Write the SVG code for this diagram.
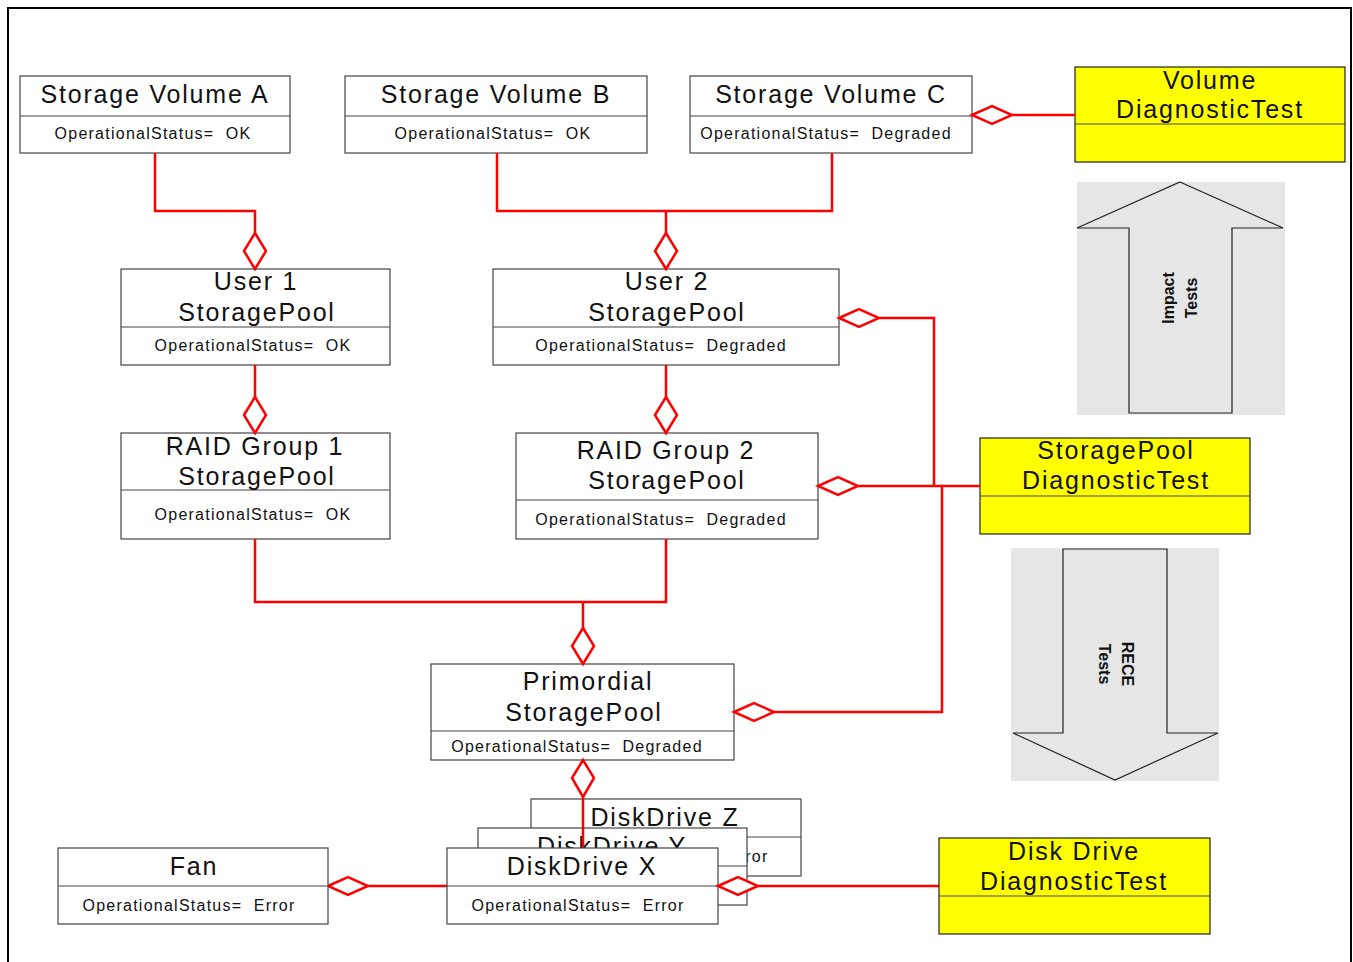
<svg xmlns="http://www.w3.org/2000/svg" width="1353" height="962" viewBox="0 0 1353 962">
<style>
  .box { fill: #ffffff; stroke: #444444; stroke-width: 1.2; }
  .ybox { fill: #ffff00; stroke: #222222; stroke-width: 1.2; }
  .div { stroke: #444444; stroke-width: 1.2; }
  .t { font-family: "Liberation Sans", Arial, sans-serif; font-size: 25px; letter-spacing: 1.8px; fill: #111111; text-anchor: middle; }
  .s { font-family: "Liberation Sans", Arial, sans-serif; font-size: 16px; letter-spacing: 1.25px; fill: #111111; text-anchor: middle; white-space: pre; }
  .b { font-family: "Liberation Sans", Arial, sans-serif; font-size: 16px; font-weight: bold; fill: #111111; text-anchor: middle; }
  .gray { fill: #e6e6e6; }
  .arrow { fill: #e6e6e6; stroke: #222222; stroke-width: 1.2; }
  .c { fill: none; stroke: #ff0000; stroke-width: 2.5; }
  .d { fill: #ffffff; stroke: #ff0000; stroke-width: 2.5; }
</style>
<rect x="0" y="0" width="1353" height="962" fill="#ffffff"/>
<rect x="8" y="8" width="1343" height="980" fill="none" stroke="#000000" stroke-width="2"/>

<g id="impact-arrow">
  <rect class="gray" x="1077" y="182" width="208" height="233"/>
  <polygon class="arrow" points="1180,182 1283,228 1232,228 1232,413 1129,413 1129,228 1077,228"/>
  <text class="b" transform="translate(1174,298) rotate(-90)">Impact</text>
  <text class="b" transform="translate(1197,298) rotate(-90)">Tests</text>
</g>
<g id="rece-arrow">
  <rect class="gray" x="1011" y="548" width="208" height="233"/>
  <polygon class="arrow" points="1063,549 1167,549 1167,733 1218,733 1115,780 1013,733 1063,733"/>
  <text class="b" transform="translate(1122,664) rotate(90)">RECE</text>
  <text class="b" transform="translate(1099,664) rotate(90)">Tests</text>
</g>

<g id="sv-a">
  <rect class="box" x="20" y="76" width="270" height="77"/>
  <line class="div" x1="20" y1="116" x2="290" y2="116"/>
  <text class="t" x="155" y="103">Storage Volume A</text>
  <text class="s" x="153" y="139">OperationalStatus=  OK</text>
</g>
<g id="sv-b">
  <rect class="box" x="345" y="76" width="302" height="77"/>
  <line class="div" x1="345" y1="116" x2="647" y2="116"/>
  <text class="t" x="496" y="103">Storage Volume B</text>
  <text class="s" x="493" y="139">OperationalStatus=  OK</text>
</g>
<g id="sv-c">
  <rect class="box" x="690" y="76" width="282" height="77"/>
  <line class="div" x1="690" y1="116" x2="972" y2="116"/>
  <text class="t" x="831" y="103">Storage Volume C</text>
  <text class="s" x="826" y="139">OperationalStatus=  Degraded</text>
</g>
<g id="volume-dt">
  <rect class="ybox" x="1075" y="67" width="270" height="95"/>
  <line class="div" x1="1075" y1="124" x2="1345" y2="124"/>
  <text class="t" x="1210" y="89">Volume</text>
  <text class="t" x="1210" y="118">DiagnosticTest</text>
</g>

<g id="user1">
  <rect class="box" x="121" y="269" width="269" height="96"/>
  <line class="div" x1="121" y1="327" x2="390" y2="327"/>
  <text class="t" x="256" y="290">User 1</text>
  <text class="t" x="257" y="321">StoragePool</text>
  <text class="s" x="253" y="351">OperationalStatus=  OK</text>
</g>
<g id="user2">
  <rect class="box" x="493" y="269" width="346" height="96"/>
  <line class="div" x1="493" y1="327" x2="839" y2="327"/>
  <text class="t" x="667" y="290">User 2</text>
  <text class="t" x="667" y="321">StoragePool</text>
  <text class="s" x="661" y="351">OperationalStatus=  Degraded</text>
</g>
<g id="raid1">
  <rect class="box" x="121" y="433" width="269" height="106"/>
  <line class="div" x1="121" y1="490" x2="390" y2="490"/>
  <text class="t" x="255" y="455">RAID Group 1</text>
  <text class="t" x="257" y="485">StoragePool</text>
  <text class="s" x="253" y="520">OperationalStatus=  OK</text>
</g>
<g id="raid2">
  <rect class="box" x="516" y="433" width="302" height="106"/>
  <line class="div" x1="516" y1="500" x2="818" y2="500"/>
  <text class="t" x="666" y="459">RAID Group 2</text>
  <text class="t" x="667" y="489">StoragePool</text>
  <text class="s" x="661" y="525">OperationalStatus=  Degraded</text>
</g>
<g id="sp-dt">
  <rect class="ybox" x="980" y="438" width="270" height="96"/>
  <line class="div" x1="980" y1="496" x2="1250" y2="496"/>
  <text class="t" x="1116" y="459">StoragePool</text>
  <text class="t" x="1116" y="489">DiagnosticTest</text>
</g>

<g id="primordial">
  <rect class="box" x="431" y="664" width="303" height="96"/>
  <line class="div" x1="431" y1="731" x2="734" y2="731"/>
  <text class="t" x="588" y="690">Primordial</text>
  <text class="t" x="584" y="721">StoragePool</text>
  <text class="s" x="577" y="752">OperationalStatus=  Degraded</text>
</g>

<g id="diskdrive-z">
  <rect class="box" x="531" y="799" width="270" height="77"/>
  <line class="div" x1="531" y1="837" x2="801" y2="837"/>
  <text class="t" x="665" y="826">DiskDrive Z</text>
  <text class="s" x="662" y="862">OperationalStatus=  Error</text>
</g>
<g id="diskdrive-y">
  <rect class="box" x="478" y="828" width="269" height="77"/>
  <line class="div" x1="478" y1="866" x2="747" y2="866"/>
  <text class="t" x="612" y="855">DiskDrive Y</text>
</g>

<g id="connectors">
  <path class="c" d="M155,153 V211 H255 V233"/>
  <path class="c" d="M497,153 V211 H832 V153 M666,211 V233"/>
  <path class="c" d="M1012,115 H1075"/>
  <path class="c" d="M255,365 V397"/>
  <path class="c" d="M666,365 V397"/>
  <path class="c" d="M879,318 H934 V486"/>
  <path class="c" d="M858,486 H980"/>
  <path class="c" d="M942,486 V712 H774"/>
  <path class="c" d="M255,539 V602 H666 V539 M583,602 V628"/>
  <path class="c" d="M583,797 V848"/>
  <path class="c" d="M368,886 H447"/>
  <path class="c" d="M758,886 H939"/>
  <polygon class="d" points="255,269 266,251 255,233 244,251"/>
  <polygon class="d" points="666,269 677,251 666,233 655,251"/>
  <polygon class="d" points="255,433 266,415 255,397 244,415"/>
  <polygon class="d" points="666,433 677,415 666,397 655,415"/>
  <polygon class="d" points="583,664 594,646 583,628 572,646"/>
  <polygon class="d" points="583,760 594,778 583,797 572,778"/>
  <polygon class="d" points="972,115 992,106 1012,115 992,124"/>
  <polygon class="d" points="839,318 859,309 879,318 859,327"/>
  <polygon class="d" points="818,486 838,477 858,486 838,495"/>
  <polygon class="d" points="734,712 754,703 774,712 754,721"/>
  <polygon class="d" points="328,886 348,877 368,886 348,895"/>
</g>

<g id="diskdrive-x">
  <rect class="box" x="447" y="848" width="271" height="76"/>
  <line class="div" x1="447" y1="886" x2="718" y2="886"/>
  <text class="t" x="582" y="875">DiskDrive X</text>
  <text class="s" x="578" y="911">OperationalStatus=  Error</text>
</g>
<g id="diskx-diamond">
  <polygon class="d" points="718,886 738,877 758,886 738,895"/>
</g>

<g id="fan">
  <rect class="box" x="58" y="848" width="270" height="76"/>
  <line class="div" x1="58" y1="886" x2="328" y2="886"/>
  <text class="t" x="194" y="875">Fan</text>
  <text class="s" x="189" y="911">OperationalStatus=  Error</text>
</g>
<g id="disk-dt">
  <rect class="ybox" x="939" y="838" width="271" height="96"/>
  <line class="div" x1="939" y1="896" x2="1210" y2="896"/>
  <text class="t" x="1074" y="860">Disk Drive</text>
  <text class="t" x="1074" y="890">DiagnosticTest</text>
</g>
</svg>
